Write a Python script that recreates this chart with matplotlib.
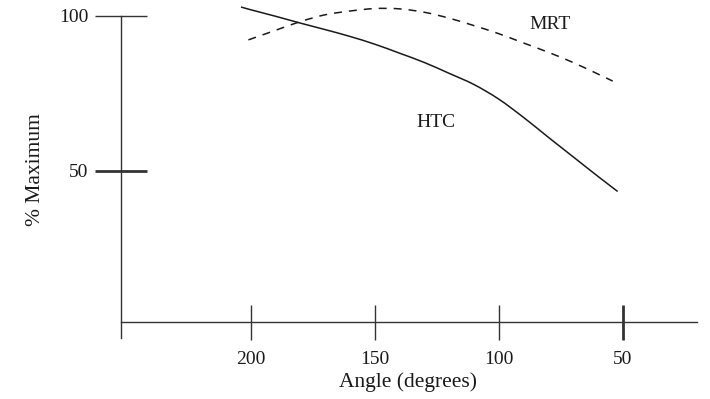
import matplotlib
matplotlib.use("Agg")
import matplotlib.pyplot as plt
from matplotlib.path import Path
from matplotlib.patches import PathPatch

# Normalised response versus angle
htc_angle = [204, 200, 190, 180, 170, 160, 150, 140, 130, 120, 110, 100, 90, 80, 70, 60, 52]
htc_value = [102.9, 102.0, 99.9, 97.7, 95.6, 93.4, 90.9, 88.0, 85.0, 81.5, 77.9, 73.2, 67.3, 60.9, 54.6, 48.3, 43.4]

mrt_angle = [201, 190, 180, 170, 160, 150, 140, 130, 120, 110, 100, 90, 80, 70, 60, 54]
mrt_value = [92.3, 95.4, 98.2, 100.4, 101.6, 102.4, 102.3, 101.2, 99.3, 96.9, 94.3, 91.3, 88.3, 85.0, 81.3, 79.0]

x_ticks = [200, 150, 100, 50]
y_ticks = [100, 50]

serif = ["Liberation Serif", "DejaVu Serif"]
plt.rcParams["font.family"] = serif
ink = "#1a1a1a"


def smooth_path(xs, ys):
    """Catmull-Rom curve through the points, expressed as cubic Bezier segments."""
    pts = list(zip(xs, ys))
    verts = [pts[0]]
    codes = [Path.MOVETO]
    n = len(pts)
    for i in range(n - 1):
        p0 = pts[i - 1] if i > 0 else pts[i]
        p1 = pts[i]
        p2 = pts[i + 1]
        p3 = pts[i + 2] if i + 2 < n else pts[i + 1]
        c1 = (p1[0] + (p2[0] - p0[0]) / 6, p1[1] + (p2[1] - p0[1]) / 6)
        c2 = (p2[0] - (p3[0] - p1[0]) / 6, p2[1] - (p3[1] - p1[1]) / 6)
        verts += [c1, c2, p2]
        codes += [Path.CURVE4] * 3
    return Path(verts, codes)


fig = plt.figure(figsize=(7.10, 3.99), dpi=100)
ax = fig.add_axes([0, 0, 1, 1])
ax.set_xlim(301.25, 14.73)
ax.set_ylim(-23.55, 105.16)

ax.add_patch(PathPatch(smooth_path(htc_angle, htc_value), fill=False,
                       edgecolor=ink, lw=1.1, capstyle="butt"))
ax.add_patch(PathPatch(smooth_path(mrt_angle, mrt_value), fill=False,
                       edgecolor=ink, lw=1.1, linestyle=(0, (5.2, 4.6))))

ax.text(125.3, 65.5, "HTC", fontsize=14, color=ink, ha="center", va="center")
ax.text(79.3, 97.4, "MRT", fontsize=14, color=ink, ha="center", va="center")

# Crossing axes
for s in ("top", "right"):
    ax.spines[s].set_visible(False)
ax.spines["left"].set_position(("data", 252.4))
ax.spines["left"].set_bounds(-3.9, 100)
ax.spines["bottom"].set_position(("data", 1.29))
ax.spines["bottom"].set_bounds(252.4, 20.0)
for s in ("left", "bottom"):
    ax.spines[s].set_color("#333333")
    ax.spines[s].set_linewidth(1.0)

ax.set_xticks(x_ticks)
ax.set_xticklabels([str(v) for v in x_ticks])
ax.set_yticks(y_ticks)
ax.set_yticklabels([str(v) for v in y_ticks])
ax.tick_params(axis="x", direction="inout", length=25.2, width=1.0, pad=8,
               labelsize=14, colors="#333333", labelcolor=ink)
ax.tick_params(axis="y", direction="inout", length=37.4, width=1.0, pad=5,
               labelsize=14, colors="#333333", labelcolor=ink)
ax.xaxis.get_major_ticks()[3].tick1line.set_markeredgewidth(2.0)
ax.yaxis.get_major_ticks()[1].tick1line.set_markeredgewidth(2.0)
ax.xaxis.get_major_ticks()[3].tick1line.set_color(ink)
ax.yaxis.get_major_ticks()[1].tick1line.set_color(ink)

ax.set_xlabel("Angle (degrees)", fontsize=15.5, color=ink)
ax.xaxis.set_label_coords(408 / 710, 1 - 382 / 399)
ax.xaxis.label.set_va("center")
ax.set_ylabel("% Maximum", fontsize=15.5, color=ink)
ax.yaxis.set_label_coords(35 / 710, 1 - 170 / 399)
ax.yaxis.label.set_va("center")

fig.savefig("out.png", dpi=100)
